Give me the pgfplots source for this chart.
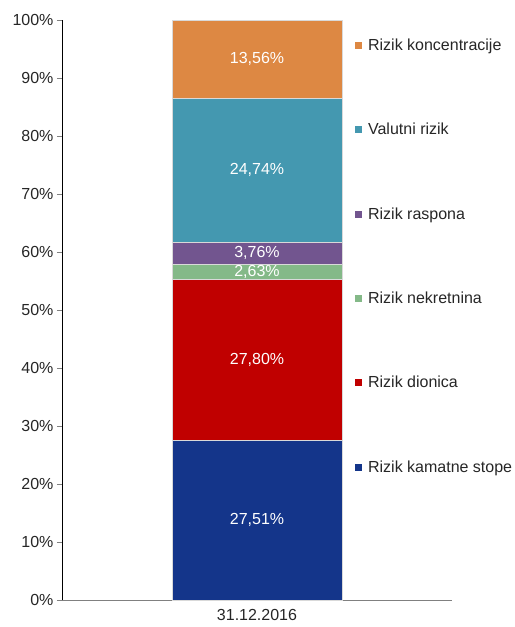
\documentclass[border=0pt]{standalone}
\usepackage{pgfplots}
\pgfplotsset{compat=1.18}
\usepackage{fontspec}
\setmainfont{Liberation Sans}
\definecolor{cblue}{HTML}{14358A}
\definecolor{cred}{HTML}{C00000}
\definecolor{cgreen}{HTML}{84B988}
\definecolor{cpurple}{HTML}{72558F}
\definecolor{cteal}{HTML}{4498B0}
\definecolor{corange}{HTML}{DD8843}
\definecolor{cgrey}{HTML}{808080}
\pgfplotsset{sqleg/.style={legend image code/.code={\fill[##1, draw=none] (0pt,-3.5pt) rectangle (7pt,3.5pt); \path[draw=none, fill=none] (7pt,-0.1pt) rectangle (11pt,0.1pt);}}}
\begin{document}
\begin{tikzpicture}
\begin{axis}[
  name=ax,
  scale only axis,
  width=390pt, height=580pt,
  ybar stacked,
  bar width=170pt,
  xmin=-1, xmax=1,
  ymin=0, ymax=100,
  axis x line*=bottom,
  axis y line*=left,
  x axis line style={draw=cgrey, line width=0.8pt, -},
  y axis line style={draw=black, line width=0.8pt, -},
  xtick={0}, xticklabels={31.12.2016},
  x tick style={draw=none},
  extra x ticks={1},
  extra x tick labels={},
  extra x tick style={tick style={draw=cgrey, line width=0.8pt}, major tick length=6pt, tick align=outside},
  ytick={0,10,...,100},
  y tick style={draw=cgrey, line width=0.8pt},
  major tick length=5pt,
  tick align=outside,
  yticklabel={\pgfmathprintnumber{\tick}\%},
  /pgf/number format/assume math mode=true,
  tick label style={font=\fontsize{16}{19}\selectfont, text=black!85},
  xticklabel style={yshift=-1pt},
  point meta=explicit symbolic,
  nodes near coords,
  every node near coord/.append style={font=\fontsize{16}{19}\selectfont, text=white, anchor=center},
  legend style={at={(axis description cs:0.751,0.971)}, anchor=north west, draw=none, fill=none,
    font=\fontsize{16}{19}\selectfont, row sep=67.2pt, inner sep=0pt, text=black!85},
  legend cell align=left,
  reverse legend,
  every axis plot post/.append style={sqleg},
  enlarge x limits=false,
  clip=false,
]
\addplot[fill=cblue, draw=black!15, line width=0.8pt]
  coordinates {(0,27.51) [27,51\%]};
\addlegendentry{Rizik kamatne stope}
\addplot[fill=cred, draw=black!15, line width=0.8pt]
  coordinates {(0,27.80) [27,80\%]};
\addlegendentry{Rizik dionica}
\addplot[fill=cgreen, draw=black!15, line width=0.8pt]
  coordinates {(0,2.63) [2,63\%]};
\addlegendentry{Rizik nekretnina}
\addplot[fill=cpurple, draw=black!15, line width=0.8pt]
  coordinates {(0,3.76) [3,76\%]};
\addlegendentry{Rizik raspona}
\addplot[fill=cteal, draw=black!15, line width=0.8pt]
  coordinates {(0,24.74) [24,74\%]};
\addlegendentry{Valutni rizik}
\addplot[fill=corange, draw=black!15, line width=0.8pt]
  coordinates {(0,13.56) [13,56\%]};
\addlegendentry{Rizik koncentracije}
\end{axis}
\useasboundingbox ([xshift=-62pt,yshift=-27pt]ax.south west) rectangle ([xshift=61pt,yshift=20pt]ax.north east);
\end{tikzpicture}
\end{document}
